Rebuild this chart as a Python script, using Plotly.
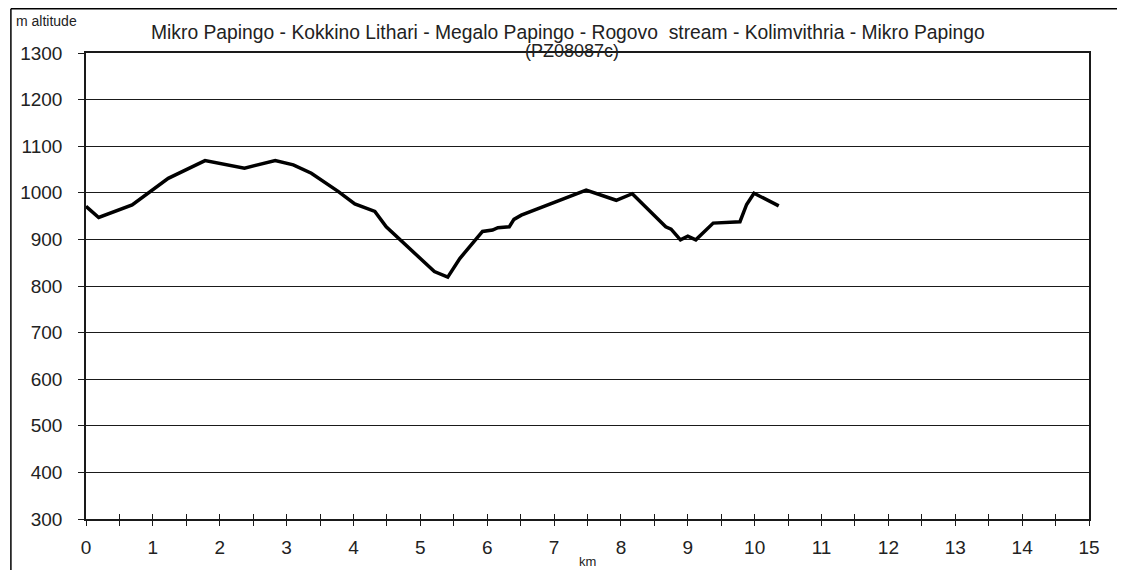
import plotly.graph_objects as go

# distance (km) and altitude (m)
km = [0.0, 0.19, 0.69, 1.23, 1.78, 2.37, 2.83, 3.10, 3.37, 3.77, 4.02, 4.32, 4.49, 4.67,
      5.21, 5.41, 5.59, 5.93, 6.08, 6.16, 6.33, 6.40, 6.51, 7.48, 7.93, 8.17, 8.67, 8.75,
      8.89, 9.00, 9.12, 9.38, 9.78, 9.88, 9.99, 10.36]
alt = [971, 947, 974, 1031, 1069, 1053, 1069, 1060, 1042, 1003, 976, 960, 927, 903,
       831, 819, 859, 917, 920, 925, 927, 943, 952, 1006, 984, 998, 927, 922,
       899, 907, 899, 935, 938, 975, 999, 972]

x_ticks = [i * 0.5 for i in range(31)]
x_labels = [str(int(v)) if v == int(v) else "" for v in x_ticks]
y_ticks = list(range(300, 1301, 100))

title1 = "Mikro Papingo - Kokkino Lithari - Megalo Papingo - Rogovo  stream - Kolimvithria - Mikro Papingo"
title2 = "(PZ08087c)"

FONT = "Liberation Sans"
GRID = "#1a1a1a"

# page body has an 8px margin, so the figure is laid out 8px smaller
W, H = 1117, 562
L, T, PW, PH = 76, 45, 1005, 466


def px(xp):  # page x pixel -> paper
    return (xp - 8 - L) / PW


def py(yp):  # page y pixel -> paper
    return 1 - (yp - 8 - T) / PH


fig = go.Figure()
fig.add_trace(go.Scatter(x=km, y=alt, mode="lines",
                         line=dict(color="black", width=3.5), showlegend=False,
                         hoverinfo="skip"))
# invisible trace to activate overlay axis for crossing ticks
fig.add_trace(go.Scatter(x=[0], y=[300], xaxis="x2", mode="markers",
                         marker=dict(opacity=0), showlegend=False, hoverinfo="skip"))

fig.update_layout(
    width=W, height=H,
    paper_bgcolor="white", plot_bgcolor="white",
    margin=dict(l=L, r=W - L - PW, t=T, b=H - T - PH, pad=0),
    font=dict(family=FONT, color="black"),
    xaxis=dict(range=[0, 15], tickvals=x_ticks, ticktext=x_labels,
               ticks="outside", ticklen=5, tickcolor=GRID, tickwidth=1,
               ticklabelstandoff=5,
               showgrid=False, zeroline=False, showline=True, linecolor=GRID,
               linewidth=1.5, mirror=True, tickfont=dict(size=19, family=FONT, color="#222"),
               fixedrange=True),
    xaxis2=dict(range=[0, 15], overlaying="x", anchor="y", side="bottom",
                tickvals=x_ticks, ticks="inside", ticklen=5, tickcolor=GRID,
                tickwidth=1, showticklabels=False, showgrid=False,
                zeroline=False, showline=False),
    yaxis=dict(range=[300, 1300], tickvals=y_ticks, ticks="outside", ticklen=6,
               tickcolor=GRID, tickwidth=1, ticklabelstandoff=12,
               showgrid=True, gridcolor=GRID,
               gridwidth=1, zeroline=False, showline=True, linecolor=GRID,
               linewidth=1.5, mirror=True, tickfont=dict(size=19, family=FONT, color="#222"),
               fixedrange=True),
    shapes=[
        dict(type="line", xref="paper", yref="paper",
             x0=(0.75 - L) / PW, x1=(W - L) / PW, y0=1 + (T - 0.75) / PH, y1=1 + (T - 0.75) / PH,
             line=dict(color="black", width=1.5)),
        dict(type="line", xref="paper", yref="paper",
             x0=(0.75 - L) / PW, x1=(0.75 - L) / PW, y0=1 + (T - 0.75) / PH, y1=-(H - T - PH) / PH,
             line=dict(color="black", width=1.5)),
    ],
    annotations=[
        dict(text=title1, xref="paper", yref="paper", x=px(567), y=py(32),
             xanchor="center", yanchor="middle",
             showarrow=False, font=dict(size=19.3, family=FONT, color="#222")),
        dict(text=title2, xref="paper", yref="paper", x=px(571), y=py(51),
             xanchor="center", yanchor="middle",
             showarrow=False, font=dict(size=18, family=FONT, color="#222")),
        dict(text="m altitude", xref="paper", yref="paper", x=px(12), y=py(21),
             xanchor="left", yanchor="middle",
             showarrow=False, font=dict(size=14, family=FONT, color="#222")),
        dict(text="km", xref="paper", yref="paper", x=px(587), y=py(561),
             xanchor="center", yanchor="middle",
             showarrow=False, font=dict(size=13, family=FONT, color="#222")),
    ],
)

fig.write_html("out.html")
